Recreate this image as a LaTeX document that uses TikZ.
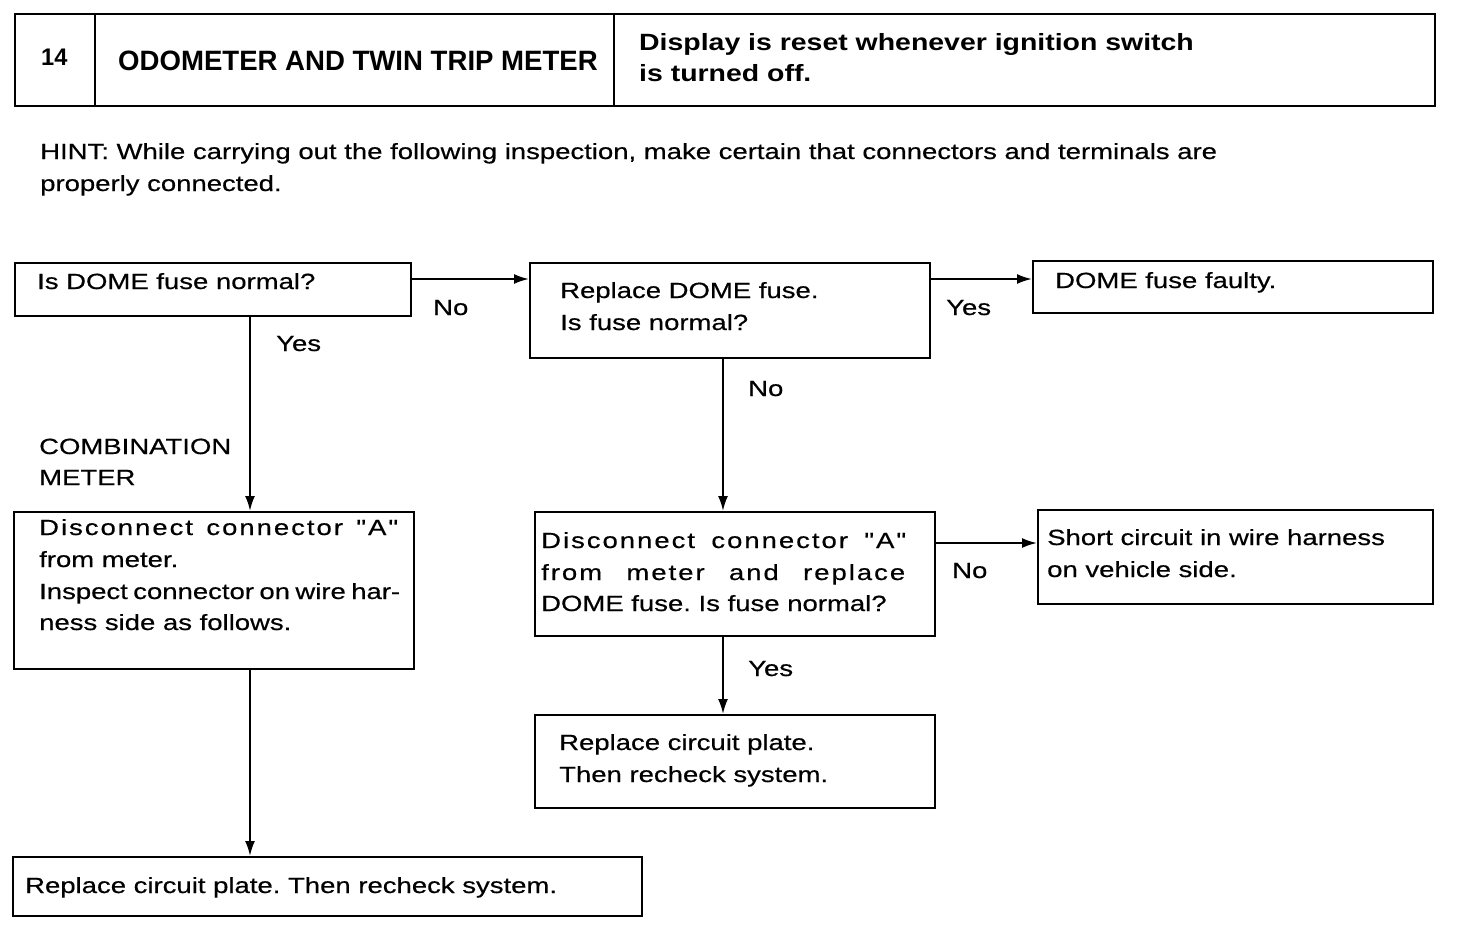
\documentclass[tikz,border=0pt]{standalone}
\usepackage{fontspec}
\setmainfont{Liberation Sans}[FakeStretch=1.25,FakeBold=0.5]
\newfontfamily\titlefont{Liberation Sans}[FakeStretch=0.985]
\newfontfamily\dispfont{Liberation Sans}[FakeStretch=1.21]
\newfontfamily\spacedfont{Liberation Sans}[FakeStretch=1.25,FakeBold=0.5,LetterSpace=9]
\usetikzlibrary{arrows.meta}
\frenchspacing
\begin{document}
\begin{tikzpicture}[x=1pt,y=-1pt,
  box/.style={draw,line width=1.8pt,inner sep=0,anchor=north west},
  txt/.style={anchor=base west,inner sep=0,font=\fontsize{22}{31}\selectfont},
  ttl/.style={anchor=base west,inner sep=0,font=\titlefont\bfseries\fontsize{28}{31}\selectfont},
  dsp/.style={anchor=base west,inner sep=0,font=\dispfont\bfseries\fontsize{23.5}{31}\selectfont},
  arr/.style={line width=2pt,-{Latex[length=15pt,width=10pt]}}]
\useasboundingbox (0,0) rectangle (1472,930);
% header
\node[box,line width=2.2pt,minimum width=1420pt,minimum height=92pt] (hdr) at (14,13) {};
\draw[line width=1.8pt] (95,13) -- (95,105) (614,13) -- (614,105);
\node[ttl,font=\titlefont\bfseries\fontsize{24}{31}\selectfont] (num) at (41,65) {14};
\node[ttl] (title) at (118,70) {ODOMETER AND TWIN TRIP METER};
\node[dsp] (d1) at (639,50) {Display is reset whenever ignition switch};
\node[dsp] (d2) at (639,81) {is turned off.};
% hint
\node[txt] (h1) at (40,159) {HINT: While carrying out the following inspection, make certain that connectors and terminals are};
\node[txt] (h2) at (40,191) {properly connected.};
% boxes
\node[box,minimum width=396pt,minimum height=53pt] (b1) at (14,262) {};
\node[box,minimum width=400pt,minimum height=95pt] (b2) at (529,262) {};
\node[box,minimum width=400pt,minimum height=52pt] (b3) at (1032,260) {};
\node[box,minimum width=400pt,minimum height=157pt] (b4) at (13,511) {};
\node[box,minimum width=400pt,minimum height=124pt] (b5) at (534,511) {};
\node[box,minimum width=395pt,minimum height=94pt] (b6) at (1037,509) {};
\node[box,minimum width=400pt,minimum height=93pt] (b7) at (534,714) {};
\node[box,minimum width=629pt,minimum height=59pt] (b8) at (12,856) {};
% box texts
\node[txt] (t1) at (37,289) {Is DOME fuse normal?};
\node[txt] (t2a) at (560,298) {Replace DOME fuse.};
\node[txt] (t2b) at (560,330) {Is fuse normal?};
\node[txt] (t3) at (1055,288) {DOME fuse faulty.};
\node[txt] (t4a) at (39,535) {\spacedfont\makebox[359pt][s]{Disconnect connector \char34 A\char34}};
\node[txt] (t4b) at (39,567) {from meter.};
\node[txt] (t4c) at (39,599) {\makebox[361pt][s]{Inspect connector on wire har-}};
\node[txt] (t4d) at (39,630) {ness side as follows.};
\node[txt] (t5a) at (541,548) {\spacedfont\makebox[365pt][s]{Disconnect connector \char34 A\char34}};
\node[txt] (t5b) at (541,580) {\spacedfont\makebox[364pt][s]{from meter and replace}};
\node[txt] (t5c) at (541,611) {DOME fuse. Is fuse normal?};
\node[txt] (t6a) at (1047,545) {Short circuit in wire harness};
\node[txt] (t6b) at (1047,577) {on vehicle side.};
\node[txt] (t7a) at (559,750) {Replace circuit plate.};
\node[txt] (t7b) at (559,782) {Then recheck system.};
\node[txt] (t8) at (25,893) {Replace circuit plate. Then recheck system.};
% labels
\node[txt] (l1) at (433,315) {No};
\node[txt] (l2) at (946,315) {Yes};
\node[txt] (l3) at (276,351) {Yes};
\node[txt] (l4) at (39,454) {COMBINATION};
\node[txt] (l5) at (39,485) {METER};
\node[txt] (l6) at (748,396) {No};
\node[txt] (l7) at (952,578) {No};
\node[txt] (l8) at (748,676) {Yes};
% connectors
\coordinate (r1) at (0,279);
\coordinate (r2) at (0,543);
\coordinate (c1) at (250,0);
\coordinate (c2) at (723,0);
\draw[arr] (b1.east |- r1) -- (b2.west |- r1);
\draw[arr] (b2.east |- r1) -- (b3.west |- r1);
\draw[arr] (b5.east |- r2) -- (b6.west |- r2);
\draw[arr] (b1.south -| c1) -- (b4.north -| c1);
\draw[arr] (b4.south -| c1) -- (b8.north -| c1);
\draw[arr] (b2.south -| c2) -- (b5.north -| c2);
\draw[arr] (b5.south -| c2) -- (b7.north -| c2);
\end{tikzpicture}
\end{document}
